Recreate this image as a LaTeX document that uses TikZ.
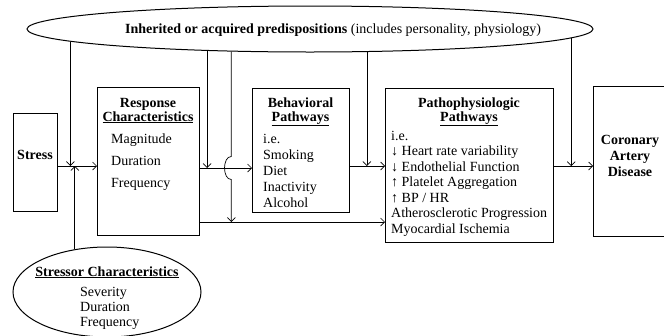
\documentclass[tikz,border=0pt]{standalone}
\usepackage{fontspec}
\setmainfont{Liberation Serif}
\usetikzlibrary{arrows.meta}
\usetikzlibrary{shapes.geometric}
\tikzset{
	boxstyle/.style={rectangle,draw=black,line width=1pt,inner sep=0pt,anchor=north west},
	ovalstyle/.style={ellipse,draw=black,line width=1pt,inner sep=0pt},
	headstyle/.style={font=\bfseries,anchor=base,inner sep=0pt},
	itemstyle/.style={anchor=base west,inner sep=0pt},
	linkstyle/.style={-{Straight Barb[length=4pt,width=8pt]},line width=0.7pt}
}
\begin{document}
\begin{tikzpicture}[x=1pt,y=-1pt]
	\fontsize{14}{16}\selectfont
	\useasboundingbox (0,0) rectangle (664,335);
	% ovals
	\node[ovalstyle,minimum width=566pt,minimum height=46pt] (pred) at (310,29) {};
	\node[anchor=base,inner sep=0pt] (predtxt) at (333,33) {\textbf{Inherited or acquired predispositions} (includes personality, physiology)};
	\node[ovalstyle,minimum width=188pt,minimum height=90pt] (stressor) at (107,292) {};
	\node[headstyle] (stressorhead) at (107,276) {\underline{Stressor Characteristics}};
	\foreach \t [count=\i] in {Severity,Duration,Frequency}
		\node[itemstyle] (s\i) at (80,281+15*\i) {\t};
	% boxes
	\node[boxstyle,minimum width=44pt,minimum height=98pt] (stress) at (13,113) {};
	\node[headstyle] (stresstxt) at (35,159) {Stress};
	\node[boxstyle,minimum width=102pt,minimum height=148pt] (resp) at (97,87) {};
	\node[headstyle] (resphead) at (148,107) {Response};
	\node[headstyle] (respsub) at (148,121) {\underline{Characteristics}};
	\foreach \t [count=\i] in {Magnitude,Duration,Frequency}
		\node[itemstyle] (r\i) at (111,121+22*\i) {\t};
	\node[boxstyle,minimum width=97pt,minimum height=124pt] (behav) at (252,88) {};
	\node[headstyle] (behavhead) at (300.5,107) {Behavioral};
	\node[headstyle] (behavsub) at (300.5,121) {\underline{Pathways}};
	\foreach \t [count=\i] in {i.e.,Smoking,Diet,Inactivity,Alcohol}
		\node[itemstyle] (b\i) at (263,127+16*\i) {\t};
	\node[boxstyle,minimum width=168pt,minimum height=154pt] (patho) at (385,88) {};
	\node[headstyle] (pathohead) at (469,107) {Pathophysiologic};
	\node[headstyle] (pathosub) at (469,121) {\underline{Pathways}};
	\foreach \t [count=\i] in {i.e.,↓ Heart rate variability,↓ Endothelial Function,↑ Platelet Aggregation,↑ BP / HR,Atherosclerotic Progression,Myocardial Ischemia}
		\node[itemstyle] (p\i) at (391,124.5+15.5*\i) {\t};
	\node[boxstyle,minimum width=82pt,minimum height=150pt] (cad) at (593,86) {};
	\foreach \t [count=\i] in {Coronary,Artery,Disease}
		\node[headstyle] (c\i) at (630,128+16*\i) {\t};
	% crossing points
	\coordinate (j1) at (pred.183.1 |- 0,166);
	\coordinate (j2) at (pred.196.3 |- 0,168);
	\coordinate (j3) at (pred.196.3 |- 0,222);
	\coordinate (j4) at (pred.338.8 |- 0,166);
	\coordinate (j5) at (pred.358 |- 0,166);
	% links
	\draw[linkstyle] (stress.east |- j1) -- (resp.west |- j1);
	\draw[linkstyle] (pred.183.1) -- (j1);
	\draw[linkstyle] (stressor.127.1) -- (stressor.127.1 |- j1);
	\draw[linkstyle] (resp.east |- j2) -- (behav.west |- j2);
	\draw[linkstyle] (pred.192.9) -- (pred.192.9 |- j2);
	\draw[linkstyle] (pred.196.3) -- ([yshift=11.5pt]j2) .. controls +(-9pt,0pt) and ([shift={(-9pt,-11.5pt)}]j2) .. ([yshift=-11.5pt]j2) -- (j3);
	\draw[linkstyle] (resp.east |- j3) -- (patho.west |- j3);
	\draw[linkstyle] (behav.east |- j4) -- (patho.west |- j4);
	\draw[linkstyle] (pred.338.8) -- (j4);
	\draw[linkstyle] (patho.east |- j5) -- (cad.west |- j5);
	\draw[linkstyle] (pred.358) -- (j5);
\end{tikzpicture}
\end{document}
